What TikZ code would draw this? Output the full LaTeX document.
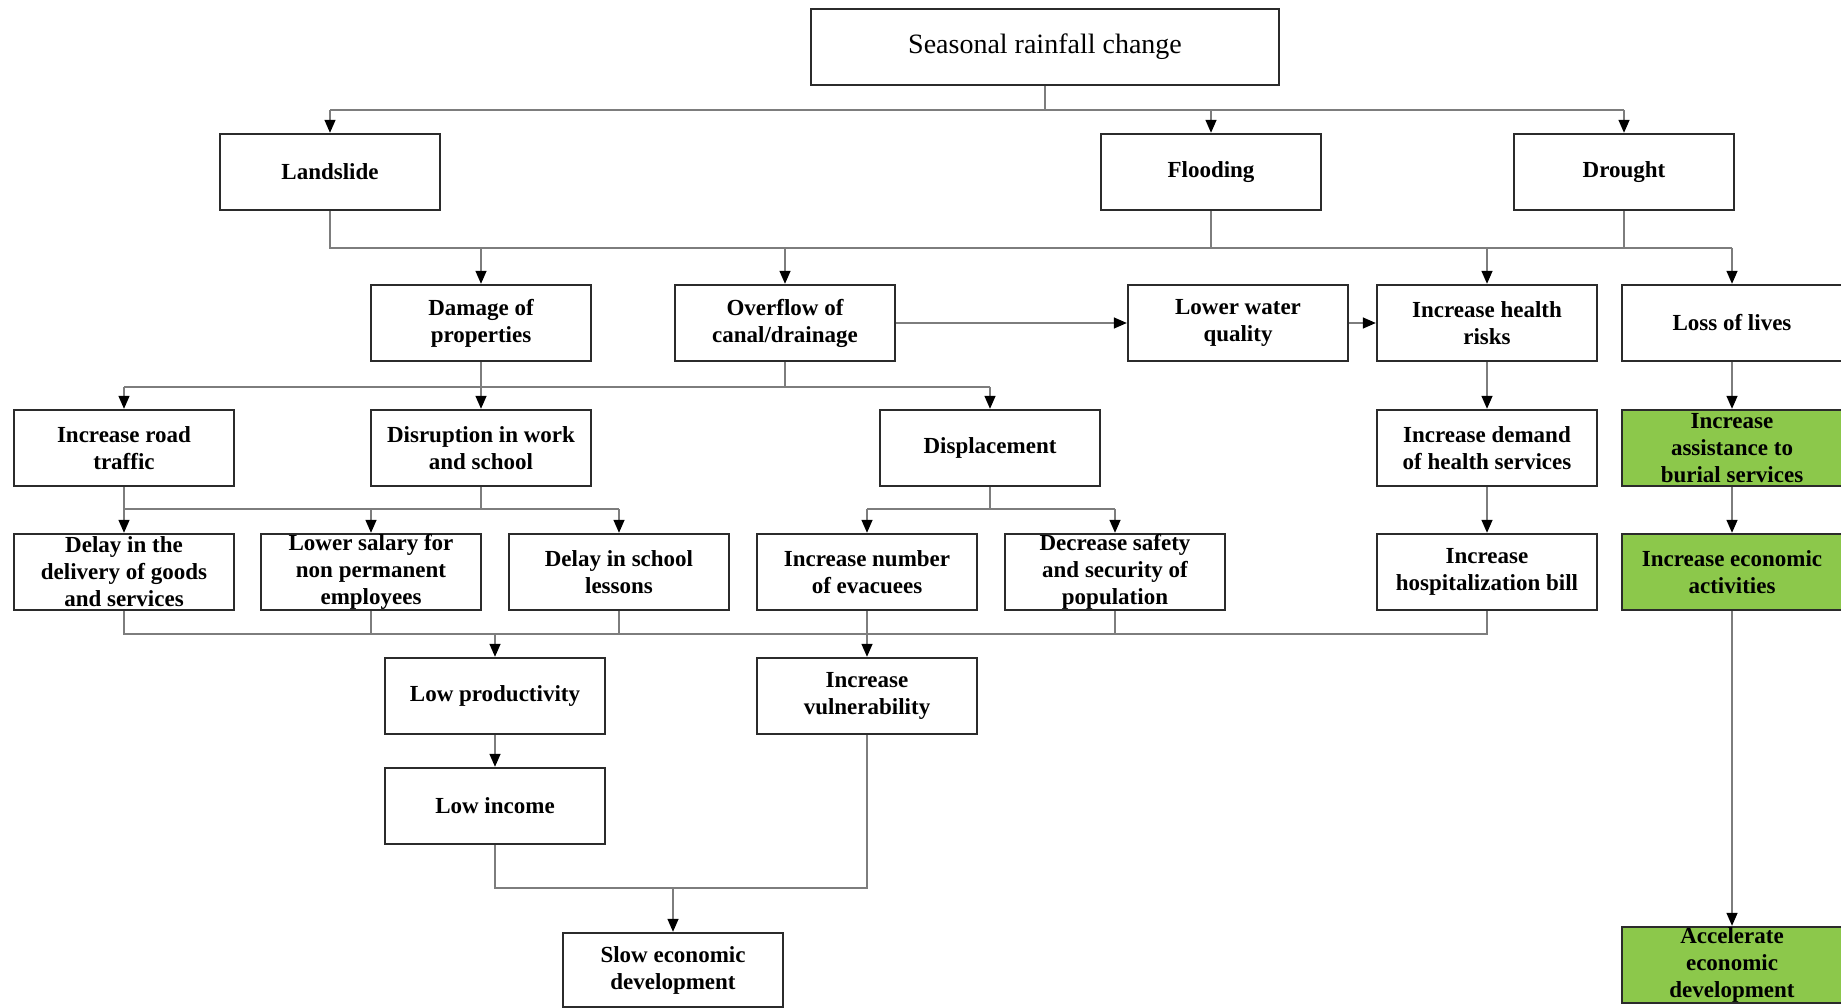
\documentclass[tikz,border=0pt]{standalone}
\usepackage{fontspec}
\setmainfont{Liberation Serif}
\usetikzlibrary{arrows.meta}
\definecolor{cdarkgray}{HTML}{2b2b2b}
\definecolor{cgray}{HTML}{7d7d7d}
\definecolor{cgreen}{HTML}{8cc84b}

\tikzset{
	box/.style={draw=cdarkgray, line width=2.4pt, fill=white, minimum width=220pt, minimum height=76pt, inner sep=0pt},
	gbox/.style={box, fill=cgreen},
	boxtext/.style={font=\fontsize{23}{27}\selectfont\bfseries, align=center, inner sep=0pt},
	link/.style={draw=cgray, line width=1.4pt},
	arr/.style={link, -{Triangle[length=13pt,width=11pt,color=black]}},
}

\begin{document}
\begin{tikzpicture}[x=1pt, y=-1pt]
		\useasboundingbox (0,0) rectangle (1841,1008);
		% level 0 and 1
		\node[box, minimum width=468pt, label={[font=\fontsize{28}{32}\selectfont]center:Seasonal rainfall change}] (top) at (1045,47) {};
		\node[box, label={[boxtext]center:Landslide}] (land) at (330,172) {};
		\node[box, label={[boxtext]center:Flooding}] (flood) at (1211,172) {};
		\node[box, label={[boxtext]center:Drought}] (drought) at (1624,172) {};
		% level 2
		\node[box, label={[boxtext]center:{Damage of\\properties}}] (damage) at (481,323) {};
		\node[box, label={[boxtext]center:{Overflow of\\canal/drainage}}] (overflow) at (785,323) {};
		\node[box, label={[boxtext]center:{Lower water\\quality}}] (lwq) at (1238,323) {};
		\node[box, label={[boxtext]center:{Increase health\\risks}}] (ihr) at (1487,323) {};
		\node[box, label={[boxtext]center:{Loss of lives}}] (lol) at (1732,323) {};
		% level 3
		\node[box, label={[boxtext]center:{Increase road\\traffic}}] (road) at (124,448) {};
		\node[box, label={[boxtext]center:{Disruption in work\\and school}}] (disrupt) at (481,448) {};
		\node[box, label={[boxtext]center:Displacement}] (displace) at (990,448) {};
		\node[box, label={[boxtext]center:{Increase demand\\of health services}}] (demand) at (1487,448) {};
		\node[gbox, label={[boxtext]center:{Increase\\assistance to\\burial services}}] (assist) at (1732,448) {};
		% level 4
		\node[box, label={[boxtext]center:{Delay in the\\delivery of goods\\and services}}] (delay) at (124,572) {};
		\node[box, label={[boxtext]center:{Lower salary for\\non permanent\\employees}}] (salary) at (371,572) {};
		\node[box, label={[boxtext]center:{Delay in school\\lessons}}] (school) at (619,572) {};
		\node[box, label={[boxtext]center:{Increase number\\of evacuees}}] (evac) at (867,572) {};
		\node[box, label={[boxtext]center:{Decrease safety\\and security of\\population}}] (safety) at (1115,572) {};
		\node[box, label={[boxtext]center:{Increase\\hospitalization bill}}] (bill) at (1487,572) {};
		\node[gbox, label={[boxtext]center:{Increase economic\\activities}}] (econ) at (1732,572) {};
		% level 5 and below
		\node[box, label={[boxtext]center:{Low productivity}}] (lowprod) at (495,696) {};
		\node[box, label={[boxtext]center:{Increase\\vulnerability}}] (vuln) at (867,696) {};
		\node[box, label={[boxtext]center:{Low income}}] (lowinc) at (495,806) {};
		\node[box, minimum height=74pt, label={[boxtext]center:{Slow economic\\development}}] (slow) at (673,970) {};
		\node[gbox, label={[boxtext]center:{Accelerate\\economic\\development}}] (accel) at (1732,965) {};
		% bus lines
		\coordinate (bus1) at (0,110);
		\coordinate (bus2) at (0,248);
		\coordinate (bus3) at (0,387);
		\coordinate (bus4) at (0,509);
		\coordinate (bus5) at (0,634);
		\coordinate (bus6) at (0,888);
		% rainfall to hazards
		\draw[link] (top.south) -- (top.south |- bus1);
		\draw[link] (land.north |- bus1) -- (drought.north |- bus1);
		\draw[arr] (land.north |- bus1) -- (land.north);
		\draw[arr] (flood.north |- bus1) -- (flood.north);
		\draw[arr] (drought.north |- bus1) -- (drought.north);
		% hazards to impacts
		\draw[link] (land.south) -- (land.south |- bus2) -- (lol.north |- bus2);
		\draw[link] (flood.south) -- (flood.south |- bus2);
		\draw[link] (drought.south) -- (drought.south |- bus2);
		\draw[arr] (damage.north |- bus2) -- (damage.north);
		\draw[arr] (overflow.north |- bus2) -- (overflow.north);
		\draw[arr] (ihr.north |- bus2) -- (ihr.north);
		\draw[arr] (lol.north |- bus2) -- (lol.north);
		\draw[arr] (overflow.east) -- (lwq.west);
		\draw[arr] (lwq.east) -- (ihr.west);
		% damage and overflow
		\draw[link] (road.north |- bus3) -- (displace.north |- bus3);
		\draw[link] (damage.south) -- (damage.south |- bus3);
		\draw[link] (overflow.south) -- (overflow.south |- bus3);
		\draw[arr] (road.north |- bus3) -- (road.north);
		\draw[arr] (disrupt.north |- bus3) -- (disrupt.north);
		\draw[arr] (displace.north |- bus3) -- (displace.north);
		% traffic and disruption
		\draw[link] (road.south) -- (road.south |- bus4) -- (school.north |- bus4);
		\draw[link] (disrupt.south) -- (disrupt.south |- bus4);
		\draw[arr] (delay.north |- bus4) -- (delay.north);
		\draw[arr] (salary.north |- bus4) -- (salary.north);
		\draw[arr] (school.north |- bus4) -- (school.north);
		% displacement
		\draw[link] (displace.south) -- (displace.south |- bus4);
		\draw[link] (evac.north |- bus4) -- (safety.north |- bus4);
		\draw[arr] (evac.north |- bus4) -- (evac.north);
		\draw[arr] (safety.north |- bus4) -- (safety.north);
		% health and lives
		\draw[arr] (ihr.south) -- (demand.north);
		\draw[arr] (demand.south) -- (bill.north);
		\draw[arr] (lol.south) -- (assist.north);
		\draw[arr] (assist.south) -- (econ.north);
		\draw[arr] (econ.south) -- (accel.north);
		% to productivity and vulnerability
		\draw[link] (delay.south) -- (delay.south |- bus5) -- (bill.south |- bus5) -- (bill.south);
		\draw[link] (salary.south) -- (salary.south |- bus5);
		\draw[link] (school.south) -- (school.south |- bus5);
		\draw[link] (evac.south) -- (evac.south |- bus5);
		\draw[link] (safety.south) -- (safety.south |- bus5);
		\draw[arr] (lowprod.north |- bus5) -- (lowprod.north);
		\draw[arr] (vuln.north |- bus5) -- (vuln.north);
		\draw[arr] (lowprod.south) -- (lowinc.north);
		% slow development
		\draw[link] (lowinc.south) -- (lowinc.south |- bus6) -- (vuln.south |- bus6) -- (vuln.south);
		\draw[arr] (slow.north |- bus6) -- (slow.north);
\end{tikzpicture}
\end{document}
